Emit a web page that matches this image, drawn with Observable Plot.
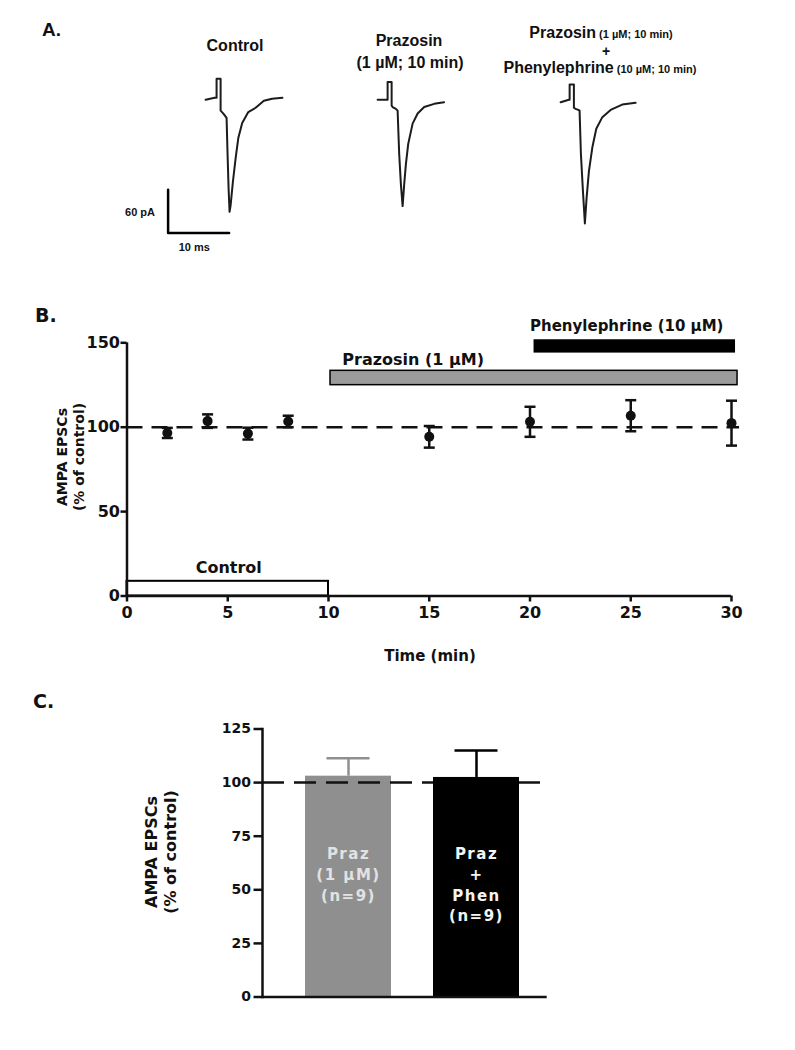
<!DOCTYPE html>
<html><head><meta charset="utf-8">
<script src="https://cdn.jsdelivr.net/npm/d3@7"></script>
<script src="https://cdn.jsdelivr.net/npm/@observablehq/plot@0.6"></script>
<style>
body{margin:0;background:#fff;}
#fig{position:relative;width:795px;height:1050px;background:#fff;overflow:hidden;}
.abs{position:absolute;}
.t{position:absolute;white-space:nowrap;line-height:1;font-weight:bold;color:#111;}
.c{transform:translate(-50%,-50%);}
.l{transform:translate(0,-50%);}
.sans{font-family:"Liberation Sans",Arial,sans-serif;}
.dv{font-family:"DejaVu Sans",sans-serif;}
.rot{transform:translate(-50%,-50%) rotate(-90deg);text-align:center;}
#pc g[aria-label="text"] text{letter-spacing:1.5px;}
</style></head><body><div id="fig"></div>
<script>
// ---------------- Panel A: example traces (ms from trace start, pA) ----------------
const controlTrace = [[0,0],[1.48,2.8],[1.8,2.8],[1.8,29],[2.0,29],[2.46,29],[2.46,-15],[2.95,-19.5],[3.44,-25],[3.6,-75],[3.77,-123],[3.93,-155],[4.1,-146],[4.48,-113],[4.92,-81],[5.36,-53],[6.0,-32],[7.0,-17],[8.2,-11],[9.56,-1.4],[10.9,1.4],[12.6,2.8]];
const prazosinTrace = [[0,0],[1.36,0],[1.64,0],[1.64,24.5],[2.3,24.5],[2.3,-8],[2.46,-10],[3.0,-12.5],[3.28,-15],[3.54,-75],[3.82,-117],[4.1,-147],[4.36,-117],[4.64,-89],[5.02,-61],[5.74,-33],[6.56,-19],[7.64,-10],[9.28,-5.6],[10.9,-3.3]];
const phenTrace = [[0,-3.3],[1.36,0],[1.48,0],[1.48,21],[2.18,21],[2.18,-11],[2.46,-12.5],[2.9,-14],[3.11,-15],[3.33,-75],[3.66,-126],[3.98,-171],[4.26,-136],[4.64,-99],[5.2,-66],[5.85,-40],[6.84,-24],[8.2,-14],[10.1,-6.6],[12.3,-4.2]];
const scaleBarMs = 10;
const scaleBarPA = 60;

// ---------------- Panel B: time course ----------------
const timeMin  = [2, 4, 6, 8, 15, 20, 25, 30];
const epscMean = [96.6, 103.6, 96.2, 103.4, 94.3, 103.2, 106.8, 102.4];
const epscSem  = [3.0, 4.0, 3.5, 3.4, 6.4, 8.9, 9.2, 13.3];
const drugLabels = ["Control", "Prazosin (1 µM)", "Phenylephrine (10 µM)"];
const drugStart  = [0, 10.1, 20.2];
const drugEnd    = [10, 30.3, 30.2];

// ---------------- Panel C: summary bars ----------------
const barGroups = ["Praz (1 µM)", "Praz + Phen"];
const barMeans  = [103.0, 102.4];
const barSems   = [8.4, 12.6];
const barText   = ["Praz\n(1 µM)\n(n=9)", "Praz\n+\nPhen\n(n=9)"];

// ---------------- helpers ----------------
const fig = document.getElementById("fig");
function place(node, left, top, id){
  const d = document.createElement("div");
  d.className = "abs"; d.style.left = left + "px"; d.style.top = top + "px";
  if (id) d.id = id;
  d.appendChild(node); fig.appendChild(d);
}
function txt(html, cls, x, y, style){
  const d = document.createElement("div");
  d.className = "t " + cls; d.style.left = x + "px"; d.style.top = y + "px";
  d.style.cssText += style || "";
  d.innerHTML = html; fig.appendChild(d);
}
const baseStyle = {fontFamily:"'DejaVu Sans',sans-serif", fontWeight:"bold", color:"#111", background:"transparent", overflow:"visible", maxWidth:"none"};

// ---------------- Panel A ----------------
const PXMS = 6.1, PXPA = 0.723;
function tracePlot(data, xd, yd, extra){
  return Plot.plot({
    width:(xd[1]-xd[0])*PXMS, height:(yd[1]-yd[0])*PXPA, margin:0,
    x:{domain:xd, axis:null}, y:{domain:yd, axis:null},
    style:{...baseStyle, fontFamily:"'Liberation Sans',Arial,sans-serif", fontSize:"11px"},
    marks:[
      data ? Plot.line(data, {x:d=>d[0], y:d=>d[1], stroke:"#1c1c1c", strokeWidth:2, strokeLinejoin:"round"}) : null,
      ...(extra||[])
    ]
  });
}
const trXD = [-1, 14], trYD = [-180, 35];
place(tracePlot(controlTrace, trXD, trYD), 205 - PXMS, 99 - 35*PXPA);
place(tracePlot(prazosinTrace, trXD, trYD), 376.7 - PXMS, 99.3 - 35*PXPA);
place(tracePlot(phenTrace, trXD, trYD), 560 - PXMS, 99.3 - 35*PXPA);
// scale bar
place(tracePlot(null, [-6, 14], [-28, 70], [
  Plot.line([[0, scaleBarPA],[0,0],[scaleBarMs,0]], {x:d=>d[0], y:d=>d[1], stroke:"#000", strokeWidth:2.5}),
  Plot.text([`${scaleBarPA} pA`], {x:-4.6, y:29, text:d=>d, fontSize:11}),
  Plot.text([`${scaleBarMs} ms`], {x:4.3, y:-20.2, text:d=>d, fontSize:11})
]), 167.3 - 6*PXMS, 232.7 - 70*PXPA);

txt("A.", "sans l", 42, 29, "font-size:19px");
txt("Control", "sans c", 235, 46, "font-size:16px");
txt("Prazosin", "sans c", 409, 40.5, "font-size:16px");
txt("(1 µM; 10 min)", "sans c", 410, 62.5, "font-size:16px");
txt("Prazosin<span style='font-size:11px'> (1 µM; 10 min)</span>", "sans c", 601, 33, "font-size:16px");
txt("+", "sans c", 606, 51, "font-size:14px");
txt("Phenylephrine<span style='font-size:11px'> (10 µM; 10 min)</span>", "sans c", 600, 67.5, "font-size:16px");

// ---------------- Panel B ----------------
const pts = timeMin.map((t,i)=>({t, m:epscMean[i], e:epscSem[i]}));
const drugs = drugLabels.map((label,i)=>({label, start:drugStart[i], end:drugEnd[i]}));
const barLevel = [[0, 8.7], [124.9, 133.4], [143.9, 151.8]];
const barFill = ["#fff", "#9b9b9b", "#000"];
const barStrokeW = [2, 1.5, 0];
const labelPos = [[5.05, 16.9, 16], [14.2, 140, 16], [24.8, 160, 15]];
const capSymbol = {draw(ctx, size){ const r = Math.sqrt(size/Math.PI); ctx.moveTo(-r,0); ctx.lineTo(r,0); }};

const plotB = Plot.plot({
  width:795, height:380, marginLeft:126.5, marginRight:64, marginTop:42.3, marginBottom:84.5,
  x:{domain:[0,30]}, y:{domain:[0,150]},
  style:{...baseStyle, fontSize:"16px"},
  marks:[
    Plot.ruleY([100], {x1:0, x2:30.4, stroke:"#111", strokeWidth:2.5, strokeDasharray:"16,9"}),
    Plot.rect(drugs, {x1:"start", x2:"end", y1:(d,i)=>barLevel[i][0], y2:(d,i)=>barLevel[i][1],
      fill:(d,i)=>barFill[i], stroke:"#000", strokeWidth:(d,i)=>barStrokeW[i]}),
    Plot.text(drugs, {x:(d,i)=>labelPos[i][0], y:(d,i)=>labelPos[i][1], text:"label", fontSize:(d,i)=>labelPos[i][2]}),
    Plot.ruleX(pts, {x:"t", y1:d=>d.m-d.e, y2:d=>d.m+d.e, stroke:"#111", strokeWidth:2.5}),
    Plot.dot(pts.flatMap(d=>[{t:d.t, y:d.m+d.e},{t:d.t, y:d.m-d.e}]), {x:"t", y:"y", symbol:capSymbol, r:5.5, fill:"none", stroke:"#111", strokeWidth:2.5}),
    Plot.dot(pts, {x:"t", y:"m", r:5, fill:"#111"}),
    Plot.axisY({ticks:[0,50,100,150], tickSize:6, tickPadding:1, strokeWidth:2.5, label:null, fontSize:16}),
    Plot.axisX({ticks:[0,5,10,15,20,25,30], tickSize:6, tickPadding:5, strokeWidth:2.5, label:null, fontSize:16}),
    Plot.ruleX([0], {strokeWidth:2.5}),
    Plot.ruleY([0], {strokeWidth:2.5})
  ]
});
place(plotB, 0, 300);
txt("B.", "dv l", 35, 315, "font-size:19px");
txt("AMPA EPSCs<br>(% of control)", "dv rot", 71, 457, "font-size:14px;line-height:17px");
txt("Time (min)", "dv c", 430, 656, "font-size:15px");

// ---------------- Panel C ----------------
const cData = barGroups.map((g,i)=>({g, m:barMeans[i], e:barSems[i], txt:barText[i]}));
const cFill = ["#8f8f8f", "#000"];
const cTextFill = ["#e2e2e2", "#f4f4f4"];
const cTextY = [57.7, 52.8];
const plotC = Plot.plot({
  width:795, height:320, marginLeft:262, marginRight:248.3, marginTop:28.5, marginBottom:23.5,
  x:{type:"band", domain:barGroups, paddingInner:0.326, paddingOuter:0.268, align:0.612, axis:null},
  y:{domain:[0,125]},
  style:{...baseStyle, fontSize:"14px"},
  marks:[
    Plot.barY(cData.slice(0,1), {x:"g", y:"m", fill:cFill[0]}),
    Plot.ruleY([100], {stroke:"#111", strokeWidth:2.5, strokeDasharray:"22,10"}),
    Plot.barY(cData.slice(1), {x:"g", y:"m", fill:cFill[1]}),
    Plot.ruleX(cData, {x:"g", y1:"m", y2:d=>d.m+d.e, stroke:(d,i)=>cFill[i], strokeWidth:2.5}),
    Plot.tickY(cData, {x:"g", y:d=>d.m+d.e, stroke:(d,i)=>cFill[i], strokeWidth:2.5, inset:21.5}),
    Plot.text(cData, {x:"g", y:(d,i)=>cTextY[i], text:"txt", fill:(d,i)=>cTextFill[i], fontSize:15, lineHeight:1.38}),
    Plot.axisY({ticks:[0,25,50,75,100,125], tickSize:8.5, tickPadding:3, strokeWidth:2.5, label:null, fontSize:14}),
    Plot.frame({anchor:"left", strokeWidth:2.5}),
    Plot.ruleY([0], {strokeWidth:2.5})
  ]
});
place(plotC, 0, 700, "pc");
txt("C.", "dv l", 33, 701, "font-size:19px");
txt("AMPA EPSCs<br>(% of control)", "dv rot", 160.5, 852, "font-size:16px;line-height:19px");
</script></body></html>
